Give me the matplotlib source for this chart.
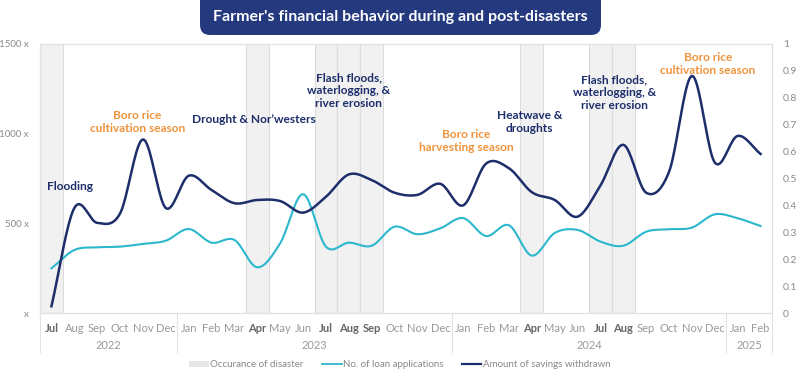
import matplotlib.pyplot as plt
import numpy as np
from matplotlib.patches import FancyBboxPatch, Patch
from matplotlib.lines import Line2D

plt.rcParams['font.family'] = ['Lato', 'DejaVu Sans']

months = ['Jul', 'Aug', 'Sep', 'Oct', 'Nov', 'Dec',
          'Jan', 'Feb', 'Mar', 'Apr', 'May', 'Jun', 'Jul', 'Aug', 'Sep', 'Oct', 'Nov', 'Dec',
          'Jan', 'Feb', 'Mar', 'Apr', 'May', 'Jun', 'Jul', 'Aug', 'Sep', 'Oct', 'Nov', 'Dec',
          'Jan', 'Feb']
years = ['2022', '2023', '2024', '2025']
year_spans = [(0, 5), (6, 17), (18, 29), (30, 31)]
disaster_idx = [0, 9, 12, 13, 14, 21, 24, 25]

# number of loan applications (left axis)
loans = [249, 351, 366, 370, 385, 403, 468, 392, 407, 255, 389, 662,
         370, 392, 375, 481, 439, 472, 529, 429, 489, 320, 446, 463,
         398, 375, 453, 467, 476, 550, 528, 485]
# amount of savings withdrawn (right axis)
savings = [0.025, 0.39, 0.335, 0.37, 0.645, 0.39, 0.51, 0.457, 0.408, 0.42, 0.416, 0.373,
           0.432, 0.515, 0.494, 0.447, 0.439, 0.48, 0.40, 0.555, 0.538, 0.449, 0.42, 0.358,
           0.474, 0.625, 0.447, 0.525, 0.881, 0.559, 0.658, 0.591]

notes = [
    ('Flooding', 0.8, 0.47, 'navy'),
    ('Boro rice\ncultivation season', 3.75, 0.71, 'orange'),
    ('Drought & Nor\u2019westers', 8.85, 0.72, 'navy'),
    ('Flash floods,\nwaterlogging, &\nriver erosion', 13.0, 0.825, 'navy'),
    ('Boro rice\nharvesting season', 18.15, 0.638, 'orange'),
    ('Heatwave &\ndroughts', 20.9, 0.71, 'navy'),
    ('Flash floods,\nwaterlogging, &\nriver erosion', 24.6, 0.82, 'navy'),
    ('Boro rice\ncultivation season', 28.7, 0.925, 'orange'),
]

NAVY = '#1d2e6b'
TEAL = '#2bb7cc'
ORANGE = '#f0933c'
GRAY = '#8a8a8a'


def smooth(y, n=20):
    # cardinal (catmull-rom) spline through monthly points
    y = np.asarray(y, float)
    p = np.concatenate([[2 * y[0] - y[1]], y, [2 * y[-1] - y[-2]]])
    xs, ys = [], []
    t = np.linspace(0, 1, n, endpoint=False)
    for i in range(len(y) - 1):
        p0, p1, p2, p3 = p[i], p[i + 1], p[i + 2], p[i + 3]
        seg = 0.5 * (2 * p1 + (-p0 + p2) * t + (2 * p0 - 5 * p1 + 4 * p2 - p3) * t ** 2
                     + (-p0 + 3 * p1 - 3 * p2 + p3) * t ** 3)
        xs.append(i + t)
        ys.append(seg)
    xs.append([len(y) - 1])
    ys.append([y[-1]])
    return np.concatenate(xs), np.concatenate(ys)


fig = plt.figure(figsize=(8, 3.85), dpi=100)
ax = fig.add_axes([0.05, 0.187, 0.915, 0.699])
ax2 = ax.twinx()

x = np.arange(len(months))
for i in disaster_idx:
    ax.axvspan(i - 0.5, i + 0.5, facecolor='#f1f1f1', edgecolor='#dcdcdc', lw=0.8, zorder=0)

sx, sy = smooth(loans)
ax.plot(sx, sy, color=TEAL, lw=1.5, zorder=3)
sx, sy = smooth(savings)
ax2.plot(sx, sy, color=NAVY, lw=1.8, zorder=3)

ax.set_xlim(-0.5, len(months) - 0.5)
ax.set_ylim(0, 1500)
ax2.set_ylim(0, 1)
ax.set_yticks([0, 500, 1000, 1500])
ax.set_yticklabels(['x', '500 x', '1000 x', '1500 x'])
ax2.set_yticks(np.arange(0, 1.01, 0.1))
ax2.set_yticklabels(['0', '0.1', '0.2', '0.3', '0.4', '0.5', '0.6', '0.7', '0.8', '0.9', '1'])
ax.set_xticks(x)
ax.set_xticklabels(months)
for i, lab in enumerate(ax.get_xticklabels()):
    if i in disaster_idx:
        lab.set_fontweight('bold')
        lab.set_color('#666666')
    else:
        lab.set_color('#999999')

ax.tick_params(axis='x', length=0, pad=7, labelsize=8)
ax.tick_params(axis='y', length=0, pad=8, labelsize=7, labelcolor=GRAY)
ax2.tick_params(axis='y', length=0, pad=8, labelsize=7.5, labelcolor=GRAY)
for a in (ax, ax2):
    for s in a.spines.values():
        s.set_color('#e2e2e2')
        s.set_linewidth(0.8)
ax.spines['bottom'].set_color('#cfcfcf')

# year row under the months
trans = ax.get_xaxis_transform()
for b in [-0.5, 5.5, 17.5, 29.5, 31.5]:
    ax.plot([b, b], [0, -0.145], transform=trans, color='#e2e2e2', lw=0.8, clip_on=False)
for yr, (a, b) in zip(years, year_spans):
    ax.text((a + b) / 2, -0.12, yr, transform=trans, ha='center', va='center',
            fontsize=8, color='#999999')

for txt, xi, yv, c in notes:
    ax2.text(xi, yv, txt, ha='center', va='center', fontsize=8.6, fontweight='bold',
             color=NAVY if c == 'navy' else ORANGE, linespacing=1.2, zorder=4)

handles = [Patch(facecolor='#e6e6e6', edgecolor='none'),
           Line2D([], [], color=TEAL, lw=1.3),
           Line2D([], [], color=NAVY, lw=1.6)]
fig.legend(handles, ['Occurance of disaster', 'No. of loan applications', 'Amount of savings withdrawn'],
           loc='center', bbox_to_anchor=(0.5, 0.052), ncol=3, frameon=False, fontsize=7,
           labelcolor='#888888', handlelength=2.0, handleheight=0.5, handletextpad=0.15,
           columnspacing=1.9)

# title banner
box = FancyBboxPatch((2.0, 3.5), 4.01, 0.6, boxstyle='round,pad=0,rounding_size=0.1',
                     transform=fig.dpi_scale_trans, facecolor='#24397e', edgecolor='none')
fig.patches.append(box)
fig.text(0.5, 1 - 17.5 / 385, "Farmer's financial behavior during and post-disasters",
         ha='center', va='center', color='white', fontsize=11.5, fontweight='bold')

fig.savefig('out.png', dpi=100)
